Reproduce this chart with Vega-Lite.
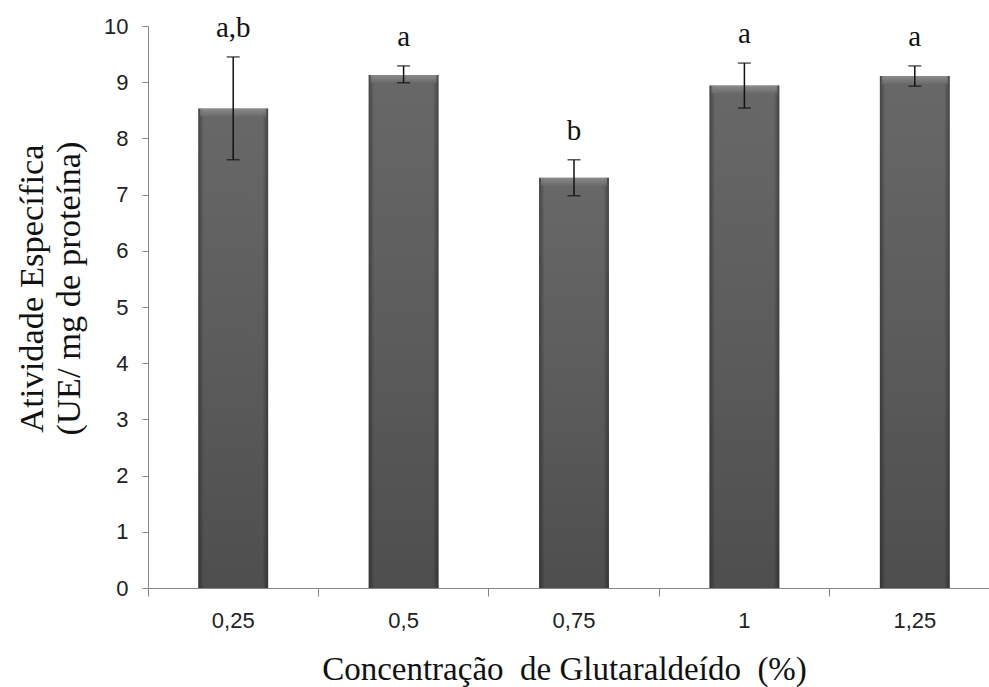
{
  "$schema": "https://vega.github.io/schema/vega-lite/v6.json",
  "autosize": "none",
  "width": 841,
  "height": 562,
  "padding": {"left": 148, "top": 26, "right": 0, "bottom": 99},
  "background": "white",
  "config": {"view": {"stroke": null}},
  "data": {
    "values": [
      {"conc": "0,25", "mean": 8.53, "lower": 7.62, "upper": 9.45, "letter": "a,b"},
      {"conc": "0,5", "mean": 9.13, "lower": 8.99, "upper": 9.29, "letter": "a"},
      {"conc": "0,75", "mean": 7.3, "lower": 6.98, "upper": 7.62, "letter": "b"},
      {"conc": "1", "mean": 8.94, "lower": 8.54, "upper": 9.34, "letter": "a"},
      {"conc": "1,25", "mean": 9.11, "lower": 8.93, "upper": 9.29, "letter": "a"}
    ]
  },
  "encoding": {
    "x": {
      "field": "conc",
      "type": "nominal",
      "sort": null,
      "scale": {"range": [0, 852], "paddingInner": 0, "paddingOuter": 0},
      "axis": {
        "title": "Concentração\u00a0 de Glutaraldeído\u00a0 (%)",
        "titleFont": "Liberation Serif",
        "titleFontSize": 33,
        "titleFontWeight": "normal",
        "titleColor": "#111",
        "titleBaseline": "alphabetic",
        "titleX": 416,
        "titleY": 91,
        "labelAngle": 0,
        "labelFont": "Liberation Sans",
        "labelFontSize": 22,
        "labelColor": "#222",
        "labelPadding": 14,
        "domainColor": "#868686",
        "tickColor": "#868686",
        "tickSize": 8,
        "bandPosition": 0,
        "labelBound": false,
        "labelOverlap": false
      }
    }
  },
  "layer": [
    {
      "mark": {
        "type": "bar",
        "width": {"band": 0.41},
        "color": {
          "gradient": "linear", "x1": 0, "y1": 0, "x2": 0, "y2": 1,
          "stops": [{"offset": 0, "color": "#686868"}, {"offset": 0.5, "color": "#5c5c5c"}, {"offset": 1, "color": "#4e4e4e"}]
        }
      },
      "encoding": {
        "y": {
          "field": "mean", "type": "quantitative",
          "scale": {"domain": [0, 10], "nice": false},
          "axis": {
            "values": [0,1,2,3,4,5,6,7,8,9,10],
            "format": "d",
            "grid": false,
            "title": ["Atividade Específica", "(UE/ mg de proteína)"],
            "titleFont": "Liberation Serif",
            "titleFontSize": 34.5,
            "titleFontWeight": "normal",
            "titleColor": "#111",
            "titleLineHeight": 37,
            "titleAngle": -90,
            "titleAlign": "center",
            "titleBaseline": "alphabetic",
            "titleX": -106,
            "titleY": 262,
            "labelFont": "Liberation Sans",
            "labelFontSize": 22,
            "labelColor": "#222",
            "labelPadding": 14,
            "domainColor": "#868686",
            "tickColor": "#868686",
            "tickSize": 6
          }
        }
      }
    },
    {
      "mark": {
        "type": "bar",
        "width": {"band": 0.41},
        "color": {
          "gradient": "linear", "x1": 0, "y1": 0, "x2": 1, "y2": 0,
          "stops": [
            {"offset": 0, "color": "rgba(0,0,0,0.35)"},
            {"offset": 0.08, "color": "rgba(0,0,0,0.0)"},
            {"offset": 0.92, "color": "rgba(0,0,0,0.0)"},
            {"offset": 1, "color": "rgba(0,0,0,0.35)"}
          ]
        }
      },
      "encoding": {"y": {"field": "mean", "type": "quantitative"}}
    },
    {
      "mark": {
        "type": "tick",
        "orient": "horizontal",
        "size": 66,
        "thickness": 8,
        "yOffset": 4,
        "color": {
          "gradient": "linear", "x1": 0, "y1": 0, "x2": 0, "y2": 1,
          "stops": [{"offset": 0, "color": "#9a9a9a"}, {"offset": 1, "color": "#6c6c6c"}]
        }
      },
      "encoding": {"y": {"field": "mean", "type": "quantitative"}}
    },
    {
      "mark": {"type": "rule", "color": "#111", "strokeWidth": 1.5},
      "encoding": {
        "y": {"field": "lower", "type": "quantitative"},
        "y2": {"field": "upper"}
      }
    },
    {
      "mark": {"type": "tick", "color": "#111", "size": 13, "thickness": 1.5},
      "encoding": {"y": {"field": "lower", "type": "quantitative"}}
    },
    {
      "mark": {"type": "tick", "color": "#111", "size": 13, "thickness": 1.5},
      "encoding": {"y": {"field": "upper", "type": "quantitative"}}
    },
    {
      "mark": {"type": "text", "font": "Liberation Serif", "fontSize": 29, "color": "#111", "baseline": "alphabetic", "dy": -20},
      "encoding": {
        "y": {"field": "upper", "type": "quantitative"},
        "text": {"field": "letter"}
      }
    }
  ]
}
